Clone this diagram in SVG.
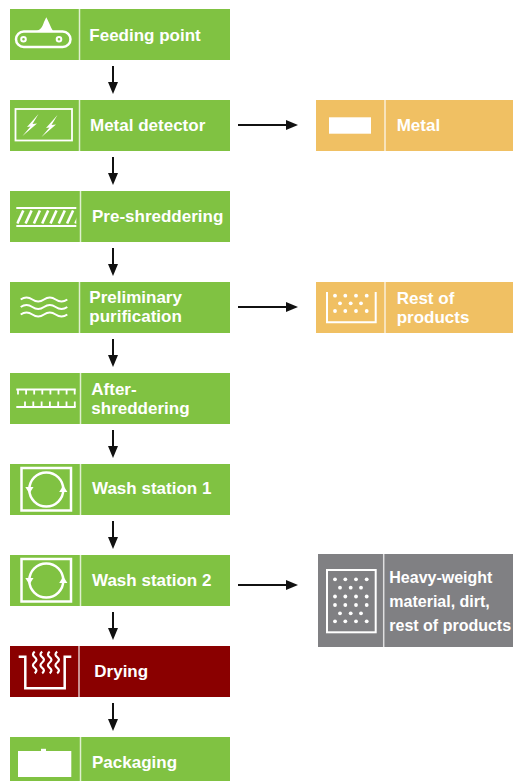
<svg xmlns="http://www.w3.org/2000/svg" width="513" height="781" viewBox="0 0 513 781">
<style>
.g{fill:#80C242}.o{fill:#F0C063}.gr{fill:#808083}.r{fill:#8A0000}
.dv{stroke:#ffffff;stroke-opacity:0.75;stroke-width:1.5}
.t{font-family:"Liberation Sans",Arial,sans-serif;font-weight:bold;font-size:17px;fill:#ffffff}
.ts{font-size:16px}
.ic{fill:none;stroke:#ffffff;stroke-width:2.5}
.icf{fill:#ffffff}
.c{stroke:#111111;stroke-width:2;fill:none;marker-end:url(#ah)}
</style>
<defs>
<marker id="ah" viewBox="0 0 12 10" refX="6" refY="5" markerWidth="12" markerHeight="10" markerUnits="userSpaceOnUse" orient="auto"><path d="M0,0 L12,5 L0,10 z" fill="#111111"/></marker>
<clipPath id="hc"><rect x="16.3" y="208" width="60" height="18"/></clipPath>
<g id="wash-ic">
<rect x="21.5" y="0" width="49.5" height="42.5" class="ic"/>
<circle cx="46.3" cy="21.5" r="17" class="ic"/>
<path d="M25.3,19 L33.5,19 L29.4,25.5 Z" class="icf"/>
<path d="M59.2,24 L67.4,24 L63.3,17.5 Z" class="icf"/>
</g>
</defs>

<g id="feeding-point">
<rect x="10" y="9" width="220" height="51" class="g"/>
<line x1="79.5" y1="9" x2="79.5" y2="60" class="dv"/>
<rect x="16" y="31.5" width="54.5" height="15.5" rx="7.75" class="ic"/>
<circle cx="23.5" cy="39.3" r="2.3" class="ic" style="stroke-width:2"/>
<circle cx="59" cy="39.3" r="2.3" class="ic" style="stroke-width:2"/>
<path d="M36,31 C40,30.5 42.5,27 44,22 L46.3,17.3 C48.5,21 50.5,27 53,31 Z" class="icf"/>
<text x="89.3" y="40.5" class="t">Feeding point</text>
</g>

<g id="metal-detector">
<rect x="10" y="100" width="220" height="51" class="g"/>
<line x1="79.5" y1="100" x2="79.5" y2="151" class="dv"/>
<rect x="15.5" y="109" width="56.5" height="31.5" class="ic" style="stroke-width:1.8"/>
<path d="M38.5,114 L27,127 L30.5,126.5 L22.5,136 L37,123.5 L32.5,124 Z" class="icf"/>
<path d="M57.5,115 L46,128 L49.5,127.5 L41.5,137 L56,124.5 L51.5,125 Z" class="icf"/>
<text x="90" y="130.7" class="t">Metal detector</text>
</g>

<g id="pre-shreddering">
<rect x="10" y="191" width="220" height="51" class="g"/>
<line x1="80.5" y1="191" x2="80.5" y2="242" class="dv"/>
<line x1="16.3" y1="208" x2="76.3" y2="208" class="ic" style="stroke-width:2"/>
<line x1="16.3" y1="226" x2="76.3" y2="226" class="ic" style="stroke-width:2"/>
<g clip-path="url(#hc)" class="ic" style="stroke-width:2.6">
<line x1="9" y1="223.5" x2="15" y2="210.5"/>
<line x1="17.3" y1="223.5" x2="23.3" y2="210.5"/>
<line x1="25.6" y1="223.5" x2="31.6" y2="210.5"/>
<line x1="33.9" y1="223.5" x2="39.9" y2="210.5"/>
<line x1="42.2" y1="223.5" x2="48.2" y2="210.5"/>
<line x1="50.5" y1="223.5" x2="56.5" y2="210.5"/>
<line x1="58.8" y1="223.5" x2="64.8" y2="210.5"/>
<line x1="67.1" y1="223.5" x2="73.1" y2="210.5"/>
<line x1="75.4" y1="223.5" x2="81.4" y2="210.5"/>
</g>
<text x="92" y="221.7" class="t">Pre-shreddering</text>
</g>

<g id="preliminary-purification">
<rect x="10" y="282" width="220" height="51" class="g"/>
<line x1="79.5" y1="282" x2="79.5" y2="333" class="dv"/>
<path d="M20.7,299.5 q5.8,-4 11.65,0 t11.65,0 t11.65,0 t11.65,0" class="ic" style="stroke-width:2"/>
<path d="M20.7,307 q5.8,-4 11.65,0 t11.65,0 t11.65,0 t11.65,0" class="ic" style="stroke-width:2"/>
<path d="M20.7,314.5 q5.8,-4 11.65,0 t11.65,0 t11.65,0 t11.65,0" class="ic" style="stroke-width:2"/>
<text class="t"><tspan x="89.3" y="303">Preliminary</tspan><tspan x="89.3" y="322">purification</tspan></text>
</g>

<g id="after-shreddering">
<rect x="10" y="373" width="220" height="51" class="g"/>
<line x1="80.5" y1="373" x2="80.5" y2="424" class="dv"/>
<line x1="16.3" y1="389.5" x2="75.7" y2="389.5" class="ic" style="stroke-width:2"/>
<line x1="16.3" y1="407" x2="75.7" y2="407" class="ic" style="stroke-width:2"/>
<path d="M18,389.5v5 M26.1,389.5v5 M34.2,389.5v5 M42.3,389.5v5 M50.4,389.5v5 M58.5,389.5v5 M66.6,389.5v5 M74.7,389.5v5 M25,407v-5.5 M33.3,407v-5.5 M41.6,407v-5.5 M49.9,407v-5.5 M58.2,407v-5.5 M66.5,407v-5.5 M74.8,407v-5.5" class="ic" style="stroke-width:1.8"/>
<text class="t"><tspan x="91.3" y="395">After-</tspan><tspan x="91.3" y="414">shreddering</tspan></text>
</g>

<g id="wash-station-1">
<rect x="10" y="464" width="220" height="51" class="g"/>
<line x1="80.5" y1="464" x2="80.5" y2="515" class="dv"/>
<use href="#wash-ic" y="468"/>
<text x="92" y="494.3" class="t">Wash station 1</text>
</g>

<g id="wash-station-2">
<rect x="10" y="555" width="220" height="51" class="g"/>
<line x1="80.5" y1="555" x2="80.5" y2="606" class="dv"/>
<use href="#wash-ic" y="559"/>
<text x="92" y="585.7" class="t">Wash station 2</text>
</g>

<g id="drying">
<rect x="10" y="646" width="220" height="51" class="r"/>
<line x1="79" y1="646" x2="79" y2="697" class="dv"/>
<path d="M18.7,656.7 H25.3 V688.3 H64.7 V656.7 H71.3" class="ic"/>
<path d="M34.7,651.7 q-3.5,2.7 0,5.4 t0,5.4 t0,5.4 t0,5.4 M42.2,651.7 q-3.5,2.7 0,5.4 t0,5.4 t0,5.4 t0,5.4 M49.7,651.7 q-3.5,2.7 0,5.4 t0,5.4 t0,5.4 t0,5.4 M57.2,651.7 q-3.5,2.7 0,5.4 t0,5.4 t0,5.4 t0,5.4" class="ic" style="stroke-width:2.2"/>
<text x="94.3" y="677.3" class="t">Drying</text>
</g>

<g id="packaging">
<rect x="10" y="737" width="220" height="51" class="g"/>
<line x1="80.5" y1="737" x2="80.5" y2="788" class="dv"/>
<rect x="18" y="751" width="53.3" height="26" class="icf"/>
<rect x="41" y="748.8" width="5" height="2.5" class="icf"/>
<text x="92" y="767.7" class="t">Packaging</text>
</g>

<g id="metal">
<rect x="316" y="100" width="197" height="51" class="o"/>
<line x1="385" y1="100" x2="385" y2="151" class="dv"/>
<rect x="329" y="117.3" width="42" height="16.4" class="icf"/>
<text x="396.7" y="131" class="t">Metal</text>
</g>

<g id="rest-of-products">
<rect x="316" y="282" width="197" height="51" class="o"/>
<line x1="385" y1="282" x2="385" y2="333" class="dv"/>
<path d="M327,292 V322.3 H375.7 V292" class="ic" style="stroke-width:2"/>
<g class="icf">
<circle cx="335" cy="295.7" r="1.9"/><circle cx="345.3" cy="295.7" r="1.9"/><circle cx="356" cy="295.7" r="1.9"/><circle cx="366.7" cy="295.7" r="1.9"/>
<circle cx="340" cy="303.3" r="1.9"/><circle cx="350.7" cy="303.3" r="1.9"/><circle cx="361" cy="303.3" r="1.9"/>
<circle cx="335" cy="311" r="1.9"/><circle cx="345.3" cy="311" r="1.9"/><circle cx="356" cy="311" r="1.9"/><circle cx="366.7" cy="311" r="1.9"/>
</g>
<text class="t"><tspan x="396.7" y="304">Rest of</tspan><tspan x="396.7" y="323">products</tspan></text>
</g>

<g id="heavy-weight">
<rect x="318" y="554" width="195" height="93" class="gr"/>
<line x1="383.7" y1="554" x2="383.7" y2="647" class="dv"/>
<rect x="327" y="570" width="48.7" height="62.3" class="ic" style="stroke-width:2"/>
<g class="icf">
<circle cx="335" cy="579.3" r="1.9"/><circle cx="345.3" cy="579.3" r="1.9"/><circle cx="356" cy="579.3" r="1.9"/><circle cx="366.7" cy="579.3" r="1.9"/>
<circle cx="340" cy="587.7" r="1.9"/><circle cx="350.7" cy="587.7" r="1.9"/><circle cx="361" cy="587.7" r="1.9"/>
<circle cx="335" cy="596.5" r="1.9"/><circle cx="345.3" cy="596.5" r="1.9"/><circle cx="356" cy="596.5" r="1.9"/><circle cx="366.7" cy="596.5" r="1.9"/>
<circle cx="335" cy="605" r="1.9"/><circle cx="345.3" cy="605" r="1.9"/><circle cx="356" cy="605" r="1.9"/><circle cx="366.7" cy="605" r="1.9"/>
<circle cx="340" cy="613.3" r="1.9"/><circle cx="350.7" cy="613.3" r="1.9"/><circle cx="361" cy="613.3" r="1.9"/>
<circle cx="335" cy="621.3" r="1.9"/><circle cx="345.3" cy="621.3" r="1.9"/><circle cx="356" cy="621.3" r="1.9"/><circle cx="366.7" cy="621.3" r="1.9"/>
</g>
<text class="t ts"><tspan x="389.3" y="583">Heavy-weight</tspan><tspan x="389.3" y="607">material, dirt,</tspan><tspan x="389.3" y="631">rest of products</tspan></text>
</g>

<g id="connectors">
<line x1="113" y1="66" x2="113" y2="88" class="c"/>
<line x1="113" y1="157" x2="113" y2="179" class="c"/>
<line x1="113" y1="248" x2="113" y2="270" class="c"/>
<line x1="113" y1="339" x2="113" y2="361" class="c"/>
<line x1="113" y1="430" x2="113" y2="452" class="c"/>
<line x1="113" y1="521" x2="113" y2="543" class="c"/>
<line x1="113" y1="612" x2="113" y2="634" class="c"/>
<line x1="113" y1="703" x2="113" y2="725" class="c"/>
<line x1="238" y1="125" x2="292" y2="125" class="c"/>
<line x1="238" y1="307" x2="292" y2="307" class="c"/>
<line x1="238" y1="585" x2="292" y2="585" class="c"/>
</g>
</svg>
